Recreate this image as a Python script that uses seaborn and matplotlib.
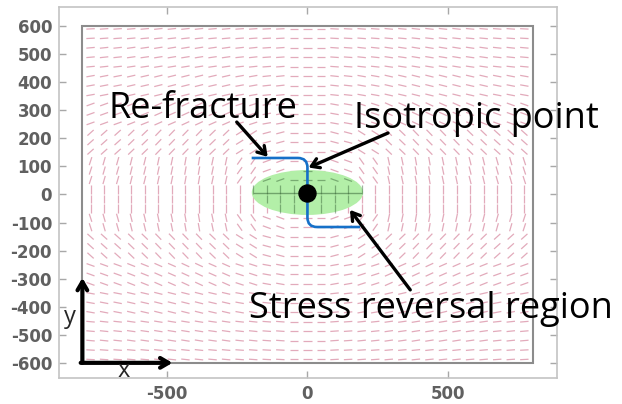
import numpy as np
import matplotlib
matplotlib.use("Agg")
import matplotlib.pyplot as plt
import seaborn as sns
import pandas as pd
from matplotlib.collections import LineCollection
from matplotlib.patches import Ellipse, Rectangle, PathPatch
from matplotlib.path import Path

# ---------------- data ----------------
# stress-direction angle (degrees from +x, counter-clockwise) on a coarse grid
table_x = [-800, -700, -600, -500, -400, -300, -200, -100, 0, 100, 200, 300, 400, 500, 600, 700, 800]
table_y = [600, 500, 400, 300, 200, 100, 0, -100, -200, -300, -400, -500, -600]
angle_table = [
    [3, 4, 5, 6, 6, 5, 4, 3, 0, -3, -4, -5, -6, -6, -5, -4, -3],
    [5, 6, 8, 9, 9, 8, 6, 4, 0, -4, -6, -8, -9, -9, -8, -6, -5],
    [10, 11, 13, 14, 14, 13, 10, 6, 0, -6, -10, -13, -14, -14, -13, -11, -10],
    [20, 20, 22, 24, 25, 24, 18, 10, 0, -10, -18, -24, -25, -24, -22, -20, -20],
    [42, 42, 44, 46, 46, 44, 32, 15, 0, -15, -32, -44, -46, -46, -44, -42, -42],
    [72, 74, 76, 78, 80, 78, 55, 20, 0, -20, -55, -78, -80, -78, -76, -74, -72],
    [90, 90, 90, 90, 90, 90, 90, 90, 90, 90, 90, 90, 90, 90, 90, 90, 90],
    [-72, -74, -76, -78, -80, -78, -55, -20, 0, 20, 55, 78, 80, 78, 76, 74, 72],
    [-42, -42, -44, -46, -46, -44, -32, -15, 0, 15, 32, 44, 46, 46, 44, 42, 42],
    [-20, -20, -22, -24, -25, -24, -18, -10, 0, 10, 18, 24, 25, 24, 22, 20, 20],
    [-10, -11, -13, -14, -14, -13, -10, -6, 0, 6, 10, 13, 14, 14, 13, 11, 10],
    [-5, -6, -8, -9, -9, -8, -6, -4, 0, 4, 6, 8, 9, 9, 8, 6, 5],
    [-3, -4, -5, -6, -6, -5, -4, -3, 0, 3, 4, 5, 6, 6, 5, 4, 3],
]

x_ticks = [-500, 0, 500]
y_ticks = [-600, -500, -400, -300, -200, -100, 0, 100, 200, 300, 400, 500, 600]

isotropic_x = [0]
isotropic_y = [5]

labels = ["Re-fracture", "Isotropic point", "Stress reversal region"]

# ---------------- figure ----------------
sns.set_style("white")
plt.rcParams["font.family"] = ["DejaVu Sans"]

fig = plt.figure(figsize=(6.22, 4.04), dpi=100)
ax = fig.add_axes([59 / 622, 1 - 378 / 404, (557 - 59) / 622, (378 - 7) / 404])
ax.set_xlim(-882, 886)
ax.set_ylim(-654, 668)

# stress direction field
tx = np.array(table_x)
ty = np.array(table_y)
ang = np.array(angle_table, dtype=float)
xs = np.linspace(-770, 770, 33)
ys = np.linspace(-588, 590, 36)
half = 15.0
segs, segs_in = [], []
for y in ys:
    iy = int(np.argmin(np.abs(ty - y)))
    for x in xs:
        ix = int(np.argmin(np.abs(tx - x)))
        a = np.deg2rad(ang[iy, ix])
        dx, dy = half * np.cos(a), half * np.sin(a)
        s = [(x - dx, y - dy), (x + dx, y + dy)]
        inside = (x / 197.5) ** 2 + ((y - 7) / 80.0) ** 2 < 1
        (segs_in if inside else segs).append(s)
ax.add_collection(LineCollection(segs, colors="#d98ea4", linewidths=0.9, alpha=0.75, zorder=1))

# stress reversal ellipse
ax.add_patch(Ellipse((0, 7), 395, 160, facecolor="#b3efa8", edgecolor="none", zorder=2))
ax.add_collection(LineCollection(segs_in, colors="#2f5a2f", linewidths=0.9, alpha=0.45, zorder=3))
ax.plot([-190, 190], [7, 7], color="#2f5a2f", lw=1.0, alpha=0.5, zorder=3)

# domain rectangle
ax.add_patch(Rectangle((-800, -600), 1600, 1200, fill=False, edgecolor="#8c8c8c", lw=1.5, zorder=4))

# re-fracture path (blue)
verts = [(-198, 130), (-34, 130), (0, 130), (0, 96), (0, -82), (0, -116), (34, -116), (187, -116)]
codes = [Path.MOVETO, Path.LINETO, Path.CURVE3, Path.CURVE3, Path.LINETO, Path.CURVE3, Path.CURVE3, Path.LINETO]
ax.add_patch(PathPatch(Path(verts, codes), facecolor="none", edgecolor="#1570c8", lw=1.9, zorder=5))

# isotropic point
sns.scatterplot(x=isotropic_x, y=isotropic_y, ax=ax, color="black", s=150, edgecolor="black", zorder=6, legend=False)

# annotations
txt_font = dict(family=["Open Sans", "DejaVu Sans"], fontsize=26, color="black")
ax.text(-372, 272, labels[0], ha="center", va="baseline", zorder=7, **txt_font)
ax.text(600, 237, labels[1], ha="center", va="baseline", zorder=7, **txt_font)
ax.text(440, -440, labels[2], ha="center", va="baseline", zorder=7, **txt_font)
arrow = dict(arrowstyle="->,head_length=0.55,head_width=0.35", color="black", lw=2.4, shrinkA=0, shrinkB=0)
ax.annotate("", xy=(-141, 134), xytext=(-251, 258), arrowprops=arrow, zorder=7)
ax.annotate("", xy=(4, 96), xytext=(286, 219), arrowprops=arrow, zorder=7)
ax.annotate("", xy=(151, -55), xytext=(365, -340), arrowprops=arrow, zorder=7)

# coordinate axes arrows
ax_arrow = dict(arrowstyle="->,head_length=0.6,head_width=0.35", color="black", lw=3.0, shrinkA=0, shrinkB=0)
ax.annotate("", xy=(-799, -297), xytext=(-799, -600), arrowprops=ax_arrow, zorder=7)
ax.annotate("", xy=(-479, -600), xytext=(-805, -600), arrowprops=ax_arrow, zorder=7)
ax.text(-845, -436, "y", ha="center", va="center", family=["Open Sans"], fontsize=17, zorder=7)
ax.text(-653, -628, "x", ha="center", va="center", family=["Open Sans"], fontsize=17, zorder=7)

# ticks / frame
ax.set_xticks(x_ticks)
ax.set_yticks(y_ticks)
ax.set_xticklabels([str(v) for v in x_ticks])
ax.set_yticklabels([str(v) for v in y_ticks])
ax.tick_params(direction="in", length=5, width=1, color="#a8a8a8",
               top=True, right=True, bottom=True, left=True,
               labelsize=12, labelcolor="#606060", pad=5)
for lab in ax.get_xticklabels() + ax.get_yticklabels():
    lab.set_fontweight("bold")
for sp in ax.spines.values():
    sp.set_color("#c4c4c4")
    sp.set_linewidth(1.2)
ax.set_xlabel("")
ax.set_ylabel("")

fig.savefig("out.png", dpi=100, facecolor="white")
